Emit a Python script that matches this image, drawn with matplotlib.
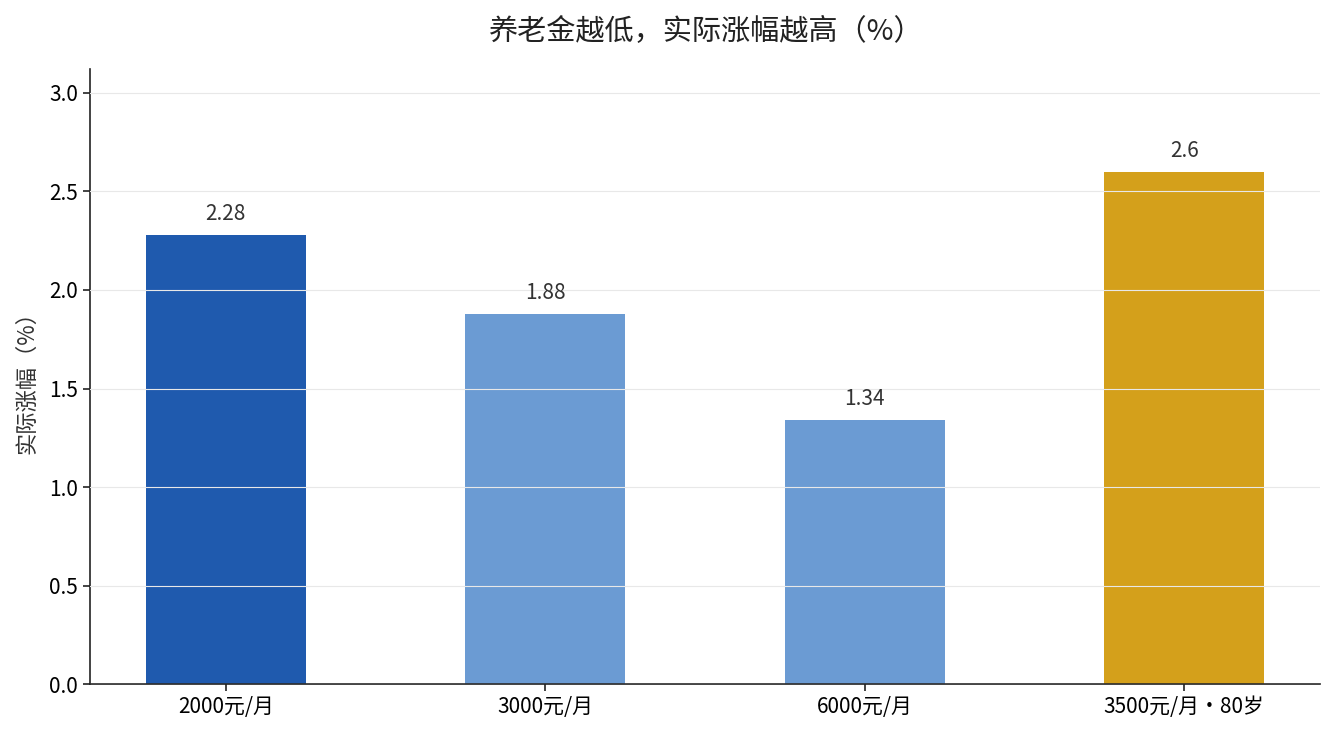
import matplotlib
matplotlib.use("Agg")
import matplotlib.pyplot as plt

plt.rcParams['font.family'] = ['Noto Sans CJK SC', 'DejaVu Sans']

categories = ["2000元/月", "3000元/月", "6000元/月", "3500元/月・80岁"]
values = [2.28, 1.88, 1.34, 2.6]
labels = ["2.28", "1.88", "1.34", "2.6"]
colors = ["#1f5aae", "#6b9bd3", "#6b9bd3", "#d4a01b"]

fig = plt.figure(figsize=(13.34, 7.35), dpi=100)
ax = fig.add_axes([0.0675, 0.0690, 0.9220, 0.8370])

x = list(range(len(categories)))
bars = ax.bar(x, values, width=0.5, color=colors, zorder=2)
ax.set_axisbelow(False)
ax.yaxis.grid(True, color="#e8e8e8", linewidth=0.8, zorder=3)
ax.set_ylim(0, 3.12)
ax.set_xticks(x)
ax.set_xticklabels(categories, fontsize=15)
ax.tick_params(axis='y', labelsize=15)
ax.tick_params(axis='both', length=5, width=1.2, color="#222222")
ax.set_yticks([0, 0.5, 1.0, 1.5, 2.0, 2.5, 3.0])
ax.set_yticklabels(["0.0", "0.5", "1.0", "1.5", "2.0", "2.5", "3.0"])
for s in ["top", "right"]:
    ax.spines[s].set_visible(False)
for s in ["left", "bottom"]:
    ax.spines[s].set_color("#222222")
    ax.spines[s].set_linewidth(1.2)

for xi, v, lab in zip(x, values, labels):
    ax.annotate(lab, (xi, v), xytext=(0, 7), textcoords="offset points",
                ha="center", va="bottom", fontsize=15, color="#333333")

ax.set_ylabel("实际涨幅（%）", fontsize=16, color="#333333", labelpad=8)
ax.set_title("养老金越低，实际涨幅越高（%）", fontsize=21, color="#222222", pad=21)

fig.savefig("out.png", dpi=100)
